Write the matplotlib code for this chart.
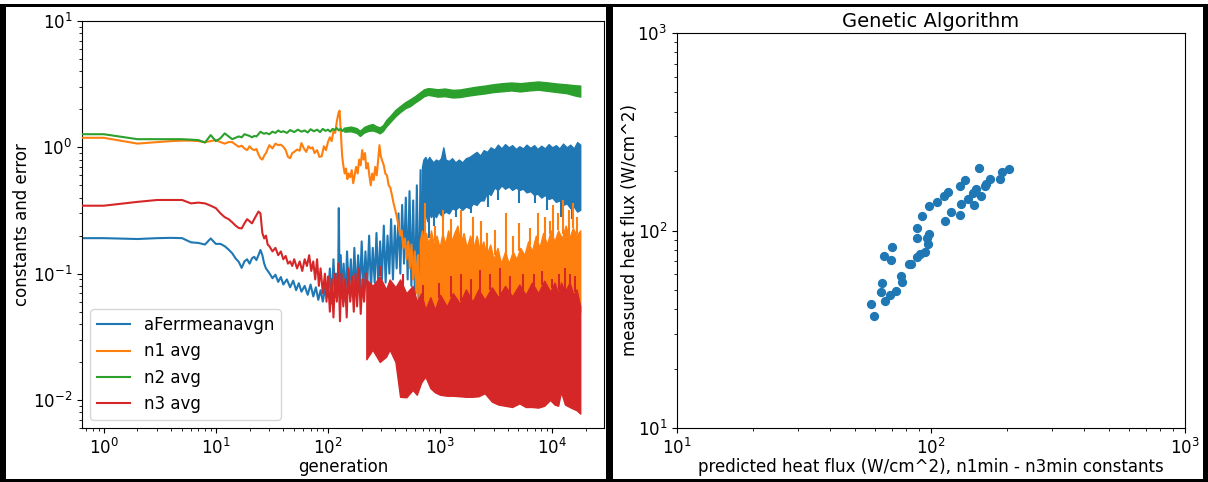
import matplotlib
matplotlib.use("Agg")
import numpy as np
import matplotlib.pyplot as plt
from matplotlib.patches import Rectangle

# ---------------- GA convergence history (left panel) ----------------
# (generation, value) traces before each series turns into a dense band
err_trace = [
    (0, 0.191), (1, 0.191), (2, 0.188), (3, 0.191), (4, 0.192), (5, 0.191), (6, 0.177), (7, 0.175),
    (8, 0.170), (9, 0.190), (10, 0.172), (11, 0.172), (12, 0.165), (13, 0.155), (14, 0.145), (15, 0.132),
    (16, 0.124), (17, 0.111), (18, 0.125), (19, 0.130), (20, 0.120), (21, 0.132), (22, 0.136), (23, 0.128),
    (24, 0.140), (25, 0.154), (26, 0.140), (27, 0.120), (28, 0.110), (30, 0.101), (32, 0.092), (34, 0.098),
    (36, 0.086), (38, 0.094), (40, 0.082), (43, 0.090), (46, 0.078), (49, 0.088), (52, 0.074), (55, 0.084),
    (58, 0.072), (62, 0.080), (66, 0.068), (70, 0.082), (74, 0.066), (78, 0.078), (82, 0.062), (86, 0.074),
    (90, 0.060), (95, 0.080), (100, 0.065), (104, 0.110), (108, 0.058), (112, 0.130), (116, 0.065),
    (120, 0.100), (123, 0.070), (125, 0.330), (127, 0.080), (130, 0.140), (134, 0.065), (138, 0.120),
    (143, 0.060), (148, 0.150), (154, 0.070), (160, 0.130), (166, 0.065), (172, 0.160), (179, 0.070),
    (186, 0.140), (193, 0.075), (200, 0.180), (208, 0.070), (216, 0.150), (224, 0.080), (233, 0.200),
    (242, 0.075), (251, 0.160), (261, 0.085), (271, 0.210), (281, 0.080), (292, 0.180), (303, 0.090),
    (315, 0.240), (327, 0.085), (340, 0.200), (353, 0.100), (366, 0.270), (380, 0.090), (395, 0.240),
    (410, 0.110), (426, 0.300), (442, 0.100), (459, 0.350), (477, 0.120), (495, 0.400), (514, 0.090),
    (534, 0.450), (555, 0.080), (576, 0.380), (598, 0.060), (621, 0.500), (645, 0.050), (670, 0.660),
    (690, 0.120),
]
# (generation, low, high) envelope of the dense band
err_band = [
    (690, 0.12, 0.70), (710, 0.25, 0.80), (740, 0.30, 0.84), (770, 0.26, 0.78), (800, 0.30, 0.84),
    (830, 0.28, 0.80), (870, 0.30, 0.76), (920, 0.28, 0.80), (970, 0.31, 0.78), (1020, 0.29, 0.82),
    (1070, 0.30, 1.00), (1120, 0.31, 0.80), (1200, 0.30, 0.78), (1280, 0.33, 0.82), (1370, 0.32, 0.76),
    (1470, 0.34, 0.80), (1580, 0.32, 0.76), (1700, 0.34, 0.82), (1830, 0.33, 0.84), (1970, 0.36, 0.88),
    (2120, 0.35, 0.92), (2280, 0.38, 0.86), (2450, 0.38, 0.95), (2630, 0.44, 0.92), (2830, 0.42, 1.00),
    (3050, 0.48, 0.96), (3280, 0.46, 1.05), (3530, 0.50, 0.98), (3800, 0.47, 1.06), (4100, 0.49, 1.00),
    (4400, 0.46, 1.04), (4750, 0.48, 0.97), (5100, 0.46, 1.02), (5500, 0.47, 0.98), (5900, 0.44, 1.05),
    (6400, 0.45, 0.99), (6900, 0.42, 1.04), (7400, 0.43, 0.97), (8000, 0.40, 1.03), (8600, 0.42, 0.98),
    (9300, 0.39, 1.06), (10000, 0.40, 1.00), (10800, 0.37, 1.04), (11600, 0.38, 0.98), (12500, 0.35, 1.07),
    (13500, 0.36, 1.00), (14500, 0.33, 1.05), (15600, 0.34, 0.98), (16700, 0.31, 1.10), (17800, 0.32, 1.05),
]
# isolated excursions below the band
err_spikes = [(740, 0.22), (800, 0.19), (890, 0.24), (1070, 0.27), (1390, 0.28), (1880, 0.30),
              (2700, 0.34), (3300, 0.38), (5100, 0.36), (7000, 0.36), (9000, 0.32), (12000, 0.28),
              (15000, 0.27)]

n1_trace = [
    (0, 1.19), (1, 1.19), (2, 1.07), (3, 1.10), (4, 1.12), (5, 1.13), (6, 1.13), (7, 1.12), (8, 1.10),
    (9, 1.12), (10, 1.14), (11, 1.10), (12, 1.07), (13, 1.10), (14, 1.10), (15, 1.05), (16, 1.01),
    (17, 1.03), (18, 0.98), (19, 0.95), (20, 1.02), (21, 0.97), (22, 0.95), (23, 0.97), (24, 0.88),
    (25, 0.82), (26, 0.80), (27, 0.86), (28, 0.90), (30, 1.04), (32, 0.98), (34, 1.07), (36, 1.04),
    (38, 1.05), (40, 1.01), (42, 0.95), (44, 0.84), (46, 0.82), (48, 0.90), (50, 0.92), (53, 0.96),
    (56, 0.94), (58, 1.08), (61, 0.98), (64, 0.92), (67, 1.02), (70, 0.98), (73, 1.00), (76, 0.90),
    (80, 0.95), (84, 0.84), (88, 0.85), (92, 1.02), (96, 0.95), (100, 1.10), (104, 1.20), (108, 1.12),
    (112, 1.35), (116, 1.30), (120, 1.60), (124, 1.86), (127, 1.95), (131, 1.20), (134, 0.85),
    (137, 0.72), (141, 0.62), (145, 0.68), (149, 0.56), (153, 0.62), (158, 0.58), (163, 0.66),
    (168, 0.52), (173, 0.60), (178, 0.70), (184, 0.62), (190, 0.80), (196, 0.72), (202, 0.95),
    (208, 0.80), (214, 0.90), (220, 0.68), (227, 0.75), (234, 0.60), (241, 0.50), (248, 0.62),
    (256, 0.55), (264, 0.70), (272, 0.60), (280, 0.78), (288, 1.04), (296, 0.85), (305, 0.78),
    (315, 0.72), (325, 0.62), (336, 0.60), (348, 0.50), (360, 0.48), (372, 0.42), (385, 0.36),
    (398, 0.32), (412, 0.28), (426, 0.24), (440, 0.20), (455, 0.22), (470, 0.16), (486, 0.19),
    (503, 0.13), (520, 0.18), (538, 0.11), (556, 0.17), (575, 0.09), (595, 0.15), (615, 0.07),
    (636, 0.14), (658, 0.055), (680, 0.12),
]
n1_band = [
    (660, 0.045, 0.18), (690, 0.045, 0.22), (720, 0.04, 0.17), (750, 0.045, 0.21), (790, 0.04, 0.17),
    (830, 0.045, 0.22), (880, 0.04, 0.17), (930, 0.045, 0.20), (990, 0.04, 0.16), (1050, 0.045, 0.21),
    (1110, 0.04, 0.17), (1180, 0.045, 0.22), (1260, 0.04, 0.18), (1340, 0.045, 0.21), (1430, 0.04, 0.24),
    (1520, 0.045, 0.17), (1620, 0.04, 0.21), (1730, 0.045, 0.16), (1850, 0.04, 0.20), (1980, 0.045, 0.16),
    (2120, 0.04, 0.20), (2270, 0.045, 0.15), (2430, 0.04, 0.18), (2600, 0.045, 0.14), (2800, 0.04, 0.17),
    (3000, 0.045, 0.13), (3250, 0.04, 0.16), (3500, 0.045, 0.12), (3800, 0.04, 0.15), (4100, 0.045, 0.12),
    (4450, 0.04, 0.15), (4800, 0.045, 0.13), (5200, 0.04, 0.16), (5650, 0.045, 0.14), (6100, 0.04, 0.18),
    (6600, 0.045, 0.15), (7150, 0.04, 0.20), (7700, 0.045, 0.16), (8300, 0.04, 0.21), (9000, 0.045, 0.17),
    (9700, 0.04, 0.22), (10500, 0.045, 0.18), (11300, 0.04, 0.22), (12200, 0.045, 0.19), (13200, 0.04, 0.24),
    (14200, 0.045, 0.19), (15300, 0.04, 0.23), (16500, 0.045, 0.20), (17800, 0.05, 0.22),
]
n1_spikes = [(730, 0.36), (900, 0.24), (1060, 0.32), (1250, 0.27), (1540, 0.32), (1960, 0.28),
             (2300, 0.26), (2600, 0.21), (3100, 0.22), (3900, 0.30), (4500, 0.20), (5100, 0.25),
             (6300, 0.23), (7400, 0.30), (8600, 0.28), (9500, 0.26), (10200, 0.35), (11300, 0.30),
             (12500, 0.38), (14000, 0.32), (15300, 0.36), (16800, 0.28)]

n2_trace = [
    (0, 1.27), (1, 1.27), (2, 1.16), (3, 1.16), (4, 1.16), (5, 1.16), (6, 1.15), (7, 1.14), (8, 1.09),
    (9, 1.25), (10, 1.12), (11, 1.18), (12, 1.29), (13, 1.22), (14, 1.16), (15, 1.19), (16, 1.22),
    (17, 1.20), (18, 1.27), (19, 1.25), (20, 1.23), (21, 1.20), (22, 1.23), (23, 1.22), (24, 1.27),
    (25, 1.33), (26, 1.30), (27, 1.28), (28, 1.30), (30, 1.27), (32, 1.33), (34, 1.30), (36, 1.36),
    (38, 1.32), (40, 1.34), (43, 1.30), (46, 1.37), (50, 1.32), (54, 1.38), (58, 1.33), (62, 1.36),
    (66, 1.31), (70, 1.39), (75, 1.34), (80, 1.38), (85, 1.32), (90, 1.40), (95, 1.35), (100, 1.38),
    (105, 1.33), (110, 1.40), (115, 1.37), (120, 1.42), (125, 1.36), (130, 1.40), (135, 1.34), (140, 1.40),
]
n2_band = [
    (140, 1.33, 1.43), (160, 1.34, 1.46), (180, 1.30, 1.42), (193, 1.23, 1.35), (210, 1.31, 1.45),
    (230, 1.35, 1.50), (250, 1.36, 1.53), (270, 1.33, 1.47), (290, 1.29, 1.44), (310, 1.35, 1.50),
    (330, 1.46, 1.64), (360, 1.59, 1.78), (400, 1.76, 1.98), (440, 1.90, 2.12), (490, 2.04, 2.28),
    (540, 2.12, 2.40), (600, 2.27, 2.55), (660, 2.40, 2.72), (720, 2.54, 2.88), (780, 2.60, 2.94),
    (850, 2.57, 2.92), (950, 2.52, 2.88), (1100, 2.54, 2.92), (1300, 2.48, 2.85), (1500, 2.50, 2.87),
    (1800, 2.57, 2.95), (2100, 2.62, 3.02), (2500, 2.67, 3.08), (3000, 2.74, 3.16), (3600, 2.78, 3.22),
    (4300, 2.82, 3.26), (5200, 2.77, 3.22), (6200, 2.82, 3.27), (7500, 2.86, 3.32), (9000, 2.80, 3.27),
    (11000, 2.74, 3.20), (13500, 2.68, 3.15), (16000, 2.57, 3.10), (17800, 2.52, 3.08),
]

n3_trace = [
    (0, 0.345), (1, 0.345), (2, 0.370), (3, 0.383), (4, 0.383), (5, 0.383), (6, 0.360), (7, 0.365),
    (8, 0.360), (9, 0.345), (10, 0.330), (11, 0.300), (12, 0.280), (13, 0.270), (14, 0.255), (15, 0.240),
    (16, 0.230), (17, 0.228), (18, 0.250), (19, 0.270), (20, 0.260), (21, 0.250), (22, 0.270), (23, 0.290),
    (24, 0.310), (25, 0.300), (26, 0.210), (27, 0.190), (28, 0.200), (29, 0.170), (30, 0.165), (32, 0.150),
    (34, 0.160), (36, 0.140), (38, 0.150), (40, 0.130), (42, 0.138), (44, 0.120), (46, 0.125), (48, 0.115),
    (50, 0.130), (53, 0.110), (56, 0.125), (59, 0.105), (62, 0.130), (65, 0.115), (68, 0.140), (71, 0.105),
    (74, 0.125), (77, 0.090), (80, 0.130), (83, 0.080), (86, 0.110), (90, 0.070), (94, 0.100), (97, 0.060),
    (100, 0.095), (104, 0.050), (108, 0.090), (112, 0.045), (116, 0.100), (120, 0.060), (124, 0.120),
    (128, 0.042), (132, 0.100), (137, 0.055), (142, 0.090), (147, 0.045), (152, 0.110), (158, 0.060),
    (164, 0.095), (170, 0.050), (176, 0.100), (182, 0.055), (189, 0.110), (196, 0.048), (203, 0.090),
    (210, 0.060), (218, 0.100),
]
n3_band = [
    (220, 0.021, 0.090), (250, 0.025, 0.080), (290, 0.020, 0.095), (330, 0.022, 0.075), (355, 0.025, 0.090),
    (400, 0.020, 0.078), (440, 0.0106, 0.090), (500, 0.0105, 0.070), (570, 0.012, 0.080), (620, 0.011, 0.060),
    (680, 0.0138, 0.070), (740, 0.0153, 0.052), (820, 0.0124, 0.065), (900, 0.0115, 0.052), (1000, 0.011, 0.068),
    (1150, 0.0108, 0.055), (1300, 0.0108, 0.070), (1500, 0.0107, 0.058), (1700, 0.0106, 0.075),
    (1950, 0.0106, 0.060), (2200, 0.0107, 0.075), (2500, 0.0113, 0.062), (2900, 0.0097, 0.078),
    (3300, 0.0092, 0.065), (3800, 0.0090, 0.080), (4400, 0.0088, 0.066), (5100, 0.0094, 0.082),
    (5800, 0.0088, 0.068), (6600, 0.0088, 0.085), (7500, 0.0087, 0.070), (8500, 0.0090, 0.088),
    (9600, 0.0100, 0.072), (10500, 0.0092, 0.085), (11300, 0.0090, 0.070), (12000, 0.0116, 0.085),
    (13000, 0.0092, 0.072), (14300, 0.0088, 0.085), (15500, 0.0085, 0.068), (16500, 0.0083, 0.075),
    (17800, 0.0078, 0.055),
]
n3_spikes = [(290, 0.114), (470, 0.10), (707, 0.082), (980, 0.085), (1250, 0.095), (1540, 0.10),
             (1900, 0.09), (2280, 0.106), (2800, 0.10), (3400, 0.11), (4200, 0.095), (5450, 0.10),
             (6900, 0.10), (8100, 0.105), (10000, 0.09), (11500, 0.10), (13000, 0.11), (14500, 0.10),
             (16000, 0.095)]

series = [
    ("aFerrmeanavgn", "#1f77b4", err_trace, err_band, err_spikes),
    ("n1 avg", "#ff7f0e", n1_trace, n1_band, n1_spikes),
    ("n2 avg", "#2ca02c", n2_trace, n2_band, []),
    ("n3 avg", "#d62728", n3_trace, n3_band, n3_spikes),
]

# ---------------- predicted vs measured heat flux (right panel) ----------------
pred_flux = [58.1, 59.4, 63.5, 64.0, 65.3, 66.2, 69.0, 69.5, 70.3, 73.1, 76.2, 77.0, 82.0, 83.2,
             87.9, 87.9, 88.2, 90.1, 92.3, 94.6, 96.6, 96.9, 97.9, 98.6, 105.4, 112.3, 113.5, 116.2,
             119.9, 129.5, 129.5, 131.8, 135.9, 139.3, 146.3, 147.9, 150.0, 154.6, 157.4, 163.0,
             165.2, 170.6, 187.5, 190.7, 202.3]
meas_flux = [42.5, 36.7, 48.9, 54.2, 74.0, 44.0, 47.3, 70.6, 82.2, 49.4, 59.0, 54.7, 67.6, 67.6,
             103.3, 92.0, 73.6, 76.3, 118.9, 77.8, 92.0, 85.5, 96.4, 133.6, 139.4, 148.9, 111.6, 156.6,
             124.4, 168.7, 120.2, 136.8, 180.2, 143.9, 154.9, 135.2, 162.3, 206.6, 150.0, 167.5,
             172.7, 183.0, 183.0, 197.6, 204.0]

W, H = 1208, 482
fig = plt.figure(figsize=(W / 100, H / 100), dpi=100)
fig.patch.set_facecolor("white")

ax1 = fig.add_axes([82 / W, 1 - 428 / H, 522 / W, 407 / H])
ax2 = fig.add_axes([677 / W, 1 - 428 / H, 508 / W, 395 / H])

for i, (label, color, trace, band, spikes) in enumerate(series):
    z = 2 + i
    gx = [p[0] for p in trace]
    gy = [p[1] for p in trace]
    ax1.plot(gx, gy, color=color, lw=1.5, label=label, zorder=z)
    bx = np.array([b[0] for b in band], dtype=float)
    lo = np.array([b[1] for b in band])
    hi = np.array([b[2] for b in band])
    ax1.fill_between(bx, lo, hi, color=color, lw=1.0, zorder=z)
    if spikes:
        sx = np.array([s[0] for s in spikes], dtype=float)
        sv = np.array([s[1] for s in spikes])
        # each excursion starts from the band envelope at the same generation
        lo_at = 10 ** np.interp(np.log10(sx), np.log10(bx), np.log10(lo))
        hi_at = 10 ** np.interp(np.log10(sx), np.log10(bx), np.log10(hi))
        base = np.where(sv > hi_at, hi_at, lo_at)
        ax1.vlines(sx, base, sv, color=color, lw=1.5, zorder=z)

ax1.set_xscale("log", nonpositive="clip")
ax1.set_yscale("log")
ax1.set_xlim(0.64, 29000)
ax1.set_ylim(0.006, 10)
ax1.set_xlabel("generation", fontsize=12, labelpad=0)
ax1.set_ylabel("constants and error", fontsize=12, labelpad=1)
ax1.tick_params(labelsize=12)
ax1.legend(loc="lower left", fontsize=12)

ax2.scatter(pred_flux, meas_flux, s=32, color="#1f77b4", zorder=3)
ax2.set_xscale("log")
ax2.set_yscale("log")
ax2.set_xlim(10, 1000)
ax2.set_ylim(10, 1000)
ax2.set_title("Genetic Algorithm", fontsize=14, pad=4)
ax2.set_xlabel("predicted heat flux (W/cm^2), n1min - n3min constants", fontsize=12, labelpad=0)
ax2.set_ylabel("measured heat flux (W/cm^2)", fontsize=12, labelpad=-1)
ax2.tick_params(labelsize=12)

# black frames around the two panels (pixel boxes: x0, y0_from_top, width, height)
frames = [(0, 4, 6, 478), (0, 4, 1208, 2.5), (0, 478.5, 1208, 3.5),
          (606, 4, 7, 478), (1203, 4, 5, 478)]
for x0, y0, w, h in frames:
    fig.add_artist(Rectangle((x0 / W, 1 - (y0 + h) / H), w / W, h / H,
                             transform=fig.transFigure, color="black", lw=0))

fig.savefig("out.png", dpi=100)
